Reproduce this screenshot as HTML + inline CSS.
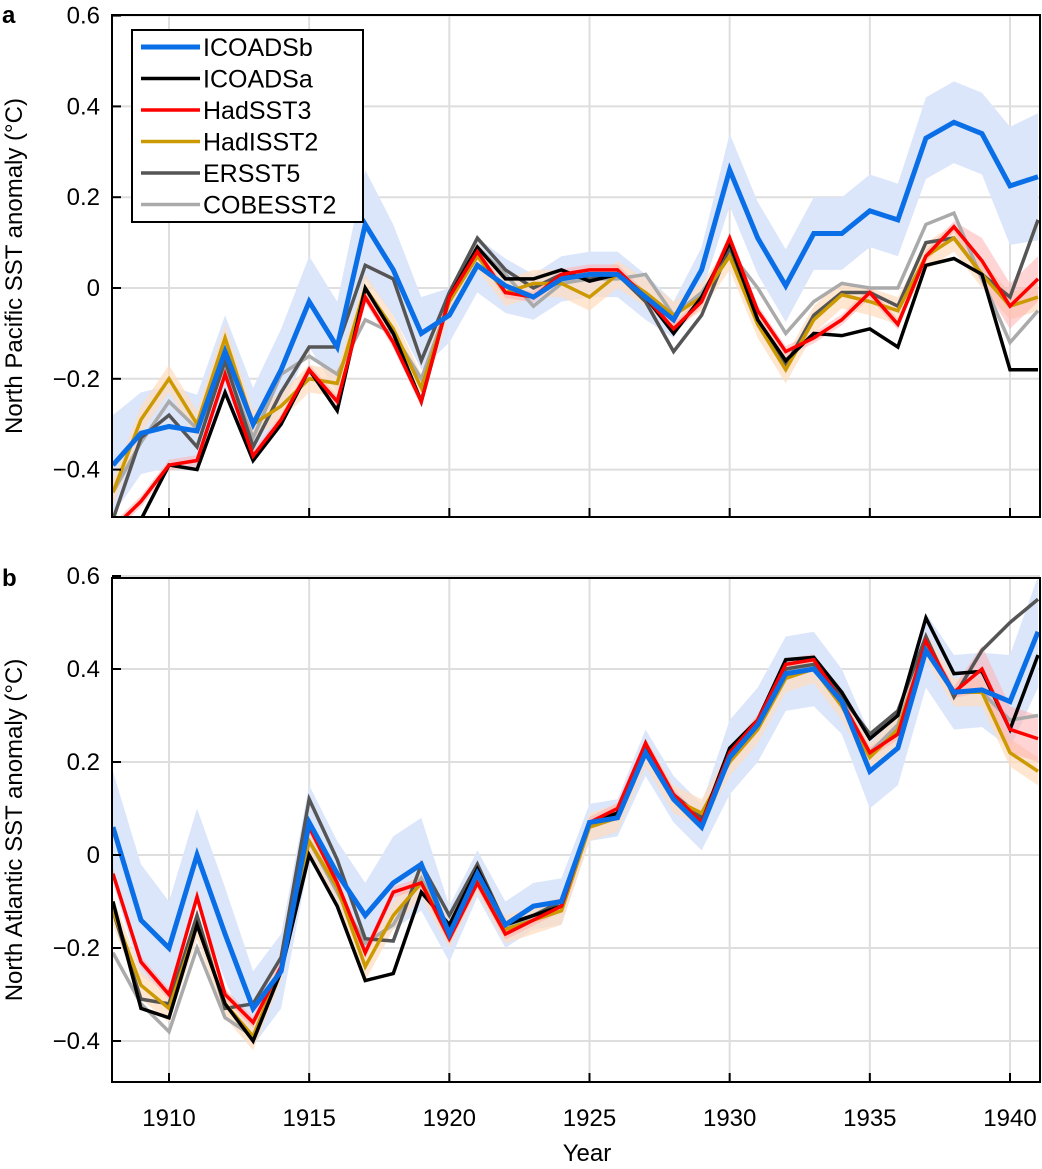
<!DOCTYPE html>
<html><head><meta charset="utf-8"><style>
body{margin:0;background:#fff}
svg text{font-family:"Liberation Sans",Arial,sans-serif;fill:#000}
</style></head><body>
<svg id="chart" width="1042" height="1164" viewBox="0 0 1042 1164" xmlns="http://www.w3.org/2000/svg">
<defs>
<clipPath id="ca"><rect x="112" y="15" width="928" height="502"/></clipPath>
<clipPath id="cb"><rect x="112" y="578" width="928" height="504"/></clipPath>
</defs>
</svg>
<script>
const years=[];for(let y=1908;y<=1941;y++)years.push(y);
const yTicks=[-0.4,-0.2,0,0.2,0.4,0.6];
const yTickLabels=["\u22120.4","\u22120.2","0","0.2","0.4","0.6"];
const xTicks=[1910,1915,1920,1925,1930,1935,1940];
const seriesNames=["ICOADSb","ICOADSa","HadSST3","HadISST2","ERSST5","COBESST2"];
const seriesColors=["#0a6fe6","#000000","#ff0000","#cc9900","#555555","#aaaaaa"];
// Panel a (North Pacific)
const paBlue=[-0.39,-0.32,-0.305,-0.315,-0.14,-0.30,-0.18,-0.03,-0.13,0.14,0.04,-0.10,-0.06,0.05,0.005,-0.02,0.02,0.03,0.03,-0.02,-0.07,0.04,0.26,0.11,0.005,0.12,0.12,0.17,0.15,0.33,0.365,0.34,0.225,0.245];
const paBlack=[-0.55,-0.51,-0.39,-0.40,-0.23,-0.38,-0.30,-0.18,-0.27,0.0,-0.10,-0.25,-0.02,0.09,0.02,0.02,0.04,0.015,0.03,-0.02,-0.10,-0.02,0.10,-0.07,-0.16,-0.10,-0.105,-0.09,-0.13,0.05,0.065,0.03,-0.18,-0.18];
const paRed=[-0.53,-0.47,-0.39,-0.38,-0.19,-0.37,-0.29,-0.18,-0.25,-0.02,-0.12,-0.25,-0.02,0.08,-0.01,-0.02,0.03,0.04,0.04,-0.02,-0.09,-0.03,0.11,-0.05,-0.14,-0.11,-0.07,-0.01,-0.08,0.07,0.135,0.06,-0.04,0.02];
const paGold=[-0.45,-0.29,-0.20,-0.30,-0.11,-0.30,-0.26,-0.20,-0.21,0.00,-0.09,-0.22,-0.03,0.07,-0.01,0.01,0.01,-0.02,0.03,-0.01,-0.06,-0.02,0.07,-0.08,-0.18,-0.07,-0.015,-0.03,-0.05,0.07,0.11,0.03,-0.04,-0.02];
const paErsst=[-0.51,-0.33,-0.28,-0.35,-0.16,-0.35,-0.23,-0.13,-0.13,0.05,0.02,-0.16,-0.01,0.11,0.04,0.00,0.03,0.02,0.03,-0.03,-0.14,-0.06,0.09,-0.07,-0.17,-0.06,-0.01,-0.01,-0.04,0.10,0.11,0.03,-0.02,0.15];
const paCobe=[-0.45,-0.34,-0.25,-0.31,-0.17,-0.33,-0.19,-0.15,-0.19,-0.07,-0.10,-0.20,-0.03,0.09,0.03,-0.04,0.01,0.02,0.02,0.03,-0.06,-0.01,0.08,0.00,-0.10,-0.03,0.01,0.00,0.00,0.14,0.165,0.02,-0.12,-0.05];
const paBlueErr=[0.11,0.09,0.09,0.08,0.08,0.08,0.09,0.1,0.1,0.12,0.1,0.08,0.06,0.06,0.06,0.05,0.05,0.05,0.05,0.05,0.04,0.05,0.08,0.08,0.08,0.08,0.08,0.08,0.08,0.09,0.09,0.09,0.13,0.14];
// Panel b (North Atlantic)
const pbBlue=[0.06,-0.14,-0.20,0.00,-0.17,-0.33,-0.25,0.07,-0.04,-0.13,-0.06,-0.02,-0.17,-0.04,-0.15,-0.11,-0.10,0.07,0.08,0.22,0.12,0.06,0.21,0.28,0.39,0.40,0.33,0.18,0.23,0.44,0.35,0.355,0.33,0.48];
const pbBlack=[-0.10,-0.33,-0.35,-0.15,-0.32,-0.40,-0.25,0.00,-0.11,-0.27,-0.255,-0.08,-0.15,-0.03,-0.15,-0.13,-0.11,0.07,0.09,0.24,0.12,0.07,0.23,0.29,0.42,0.425,0.35,0.25,0.30,0.51,0.39,0.395,0.27,0.43];
const pbRed=[-0.04,-0.23,-0.30,-0.09,-0.30,-0.36,-0.24,0.06,-0.06,-0.21,-0.08,-0.06,-0.18,-0.06,-0.17,-0.14,-0.11,0.07,0.10,0.24,0.13,0.07,0.22,0.29,0.41,0.42,0.33,0.22,0.26,0.46,0.35,0.40,0.27,0.25];
const pbGold=[-0.12,-0.28,-0.33,-0.15,-0.32,-0.39,-0.24,0.03,-0.07,-0.24,-0.13,-0.06,-0.17,-0.05,-0.16,-0.14,-0.12,0.06,0.08,0.22,0.12,0.09,0.20,0.27,0.38,0.40,0.32,0.21,0.27,0.45,0.35,0.35,0.22,0.18];
const pbErsst=[-0.12,-0.31,-0.32,-0.13,-0.33,-0.32,-0.22,0.12,-0.01,-0.18,-0.185,-0.02,-0.13,-0.02,-0.15,-0.13,-0.10,0.07,0.09,0.23,0.13,0.08,0.21,0.28,0.40,0.41,0.34,0.26,0.31,0.47,0.34,0.44,0.50,0.55];
const pbCobe=[-0.21,-0.32,-0.38,-0.20,-0.35,-0.39,-0.25,0.03,-0.08,-0.19,-0.15,-0.05,-0.16,-0.05,-0.16,-0.13,-0.11,0.06,0.08,0.22,0.12,0.07,0.21,0.28,0.39,0.40,0.32,0.22,0.28,0.45,0.35,0.35,0.29,0.30];
const pbBlueErr=[0.12,0.12,0.1,0.1,0.1,0.08,0.08,0.08,0.07,0.07,0.1,0.1,0.06,0.05,0.05,0.05,0.05,0.04,0.04,0.05,0.05,0.05,0.08,0.08,0.08,0.08,0.07,0.08,0.08,0.08,0.08,0.08,0.1,0.12];

const svg=document.getElementById('chart');
const NS='http://www.w3.org/2000/svg';
function mk(tag,attrs,parent){const e=document.createElementNS(NS,tag);for(const k in attrs)e.setAttribute(k,attrs[k]);(parent||svg).appendChild(e);return e;}
const X0=112,X1=1040;
function xs(yr){return 169+(yr-1910)*(1010-169)/30;}

function panel(p){
  const ys=v=>p.y0-v*p.k;
  const g=mk('g',{});
  
  
  xTicks.forEach(t=>{const l=mk('line',{x1:xs(t),x2:xs(t),y1:p.top,y2:p.bot,stroke:'#dedede','stroke-width':2},g);
    });
  yTicks.forEach(t=>{const l=mk('line',{x1:X0,x2:X1,y1:ys(t),y2:ys(t),stroke:'#dedede','stroke-width':2},g);
    });
  const cg=mk('g',{'clip-path':'url(#'+p.clip+')'},g);
  function band(vals,err,fill,name){
    let d='';vals.forEach((v,i)=>{d+=(i?'L':'M')+xs(years[i])+','+ys(v+err[i]);});
    for(let i=vals.length-1;i>=0;i--)d+='L'+xs(years[i])+','+ys(vals[i]-err[i]);
    const e=mk('path',{d:d+'Z',fill:fill,stroke:'none'},cg);
    
  }
  band(p.data[0],p.err,'#dce6fb','icoadsb-uncertainty-band');
  band(p.data[3],p.data[3].map(()=>0.03),'rgba(253,220,190,0.7)','hadisst2-uncertainty-band');
  band(p.data[2],p.data[2].map((v,i)=>i>30?0.05:0.012),'rgba(255,170,170,0.5)','hadsst3-uncertainty-band');
  const order=[5,4,3,1,2,0];
  order.forEach(si=>{
    const vals=p.data[si];
    const d=vals.map((v,i)=>(i?'L':'M')+xs(years[i])+','+ys(v)).join('');
    const e=mk('path',{d:d,fill:'none',stroke:seriesColors[si],'stroke-width':si==0?5:3.5,'stroke-linejoin':'miter'},cg);
    
    
  });
  const b=mk('rect',{x:X0,y:p.top,width:X1-X0,height:p.bot-p.top,fill:'none',stroke:'#000','stroke-width':2},g);
  
  yTicks.forEach((t,i)=>{
    mk('line',{x1:X0,x2:X0+9,y1:ys(t),y2:ys(t),stroke:'#000','stroke-width':2},g);
    const tx=mk('text',{x:X0-12,y:ys(t)+8,'font-size':24,'text-anchor':'end'},g);
    tx.textContent=yTickLabels[i];
    
  });
  xTicks.forEach(t=>{
    mk('line',{x1:xs(t),x2:xs(t),y1:p.bot,y2:p.bot-9,stroke:'#000','stroke-width':2},g);
    if(p.xlabels){const tx=mk('text',{x:xs(t),y:p.bot+44,'font-size':24,'text-anchor':'middle'},g);
      tx.textContent=t;}
  });
  const yt=mk('text',{x:0,y:0,'font-size':24,'text-anchor':'middle',transform:'translate(22,'+((p.top+p.bot)/2)+') rotate(-90)'},g);
  yt.textContent=p.ytitle;
  const lt=mk('text',{x:2,y:p.top+8,'font-size':24,'font-weight':'bold'},g);
  lt.textContent=p.letter;
}
panel({name:'panel-a-north-pacific',top:15,bot:517,y0:288,k:454,clip:'ca',data:[paBlue,paBlack,paRed,paGold,paErsst,paCobe],err:paBlueErr,ytitle:'North Pacific SST anomaly (°C)',letter:'a',xlabels:false});
panel({name:'panel-b-north-atlantic',top:578,bot:1082,y0:855,k:465,clip:'cb',data:[pbBlue,pbBlack,pbRed,pbGold,pbErsst,pbCobe],err:pbBlueErr,ytitle:'North Atlantic SST anomaly (°C)',letter:'b',xlabels:true});
const xt=mk('text',{x:587,y:1161,'font-size':24,'text-anchor':'middle'});
xt.textContent='Year';
const lg=mk('g',{});


mk('rect',{x:132,y:30,width:231,height:192,fill:'#fff',stroke:'#000','stroke-width':2},lg);
seriesNames.forEach((n,i)=>{
  const y=47+i*31.5;
  const e=mk('g',{},lg);
  
  
  mk('line',{x1:141,x2:200,y1:y,y2:y,stroke:seriesColors[i],'stroke-width':i==0?5:3.5},e);
  const t=mk('text',{x:203,y:y+9,'font-size':25},e);t.textContent=n;
});
</script>
</body></html>
